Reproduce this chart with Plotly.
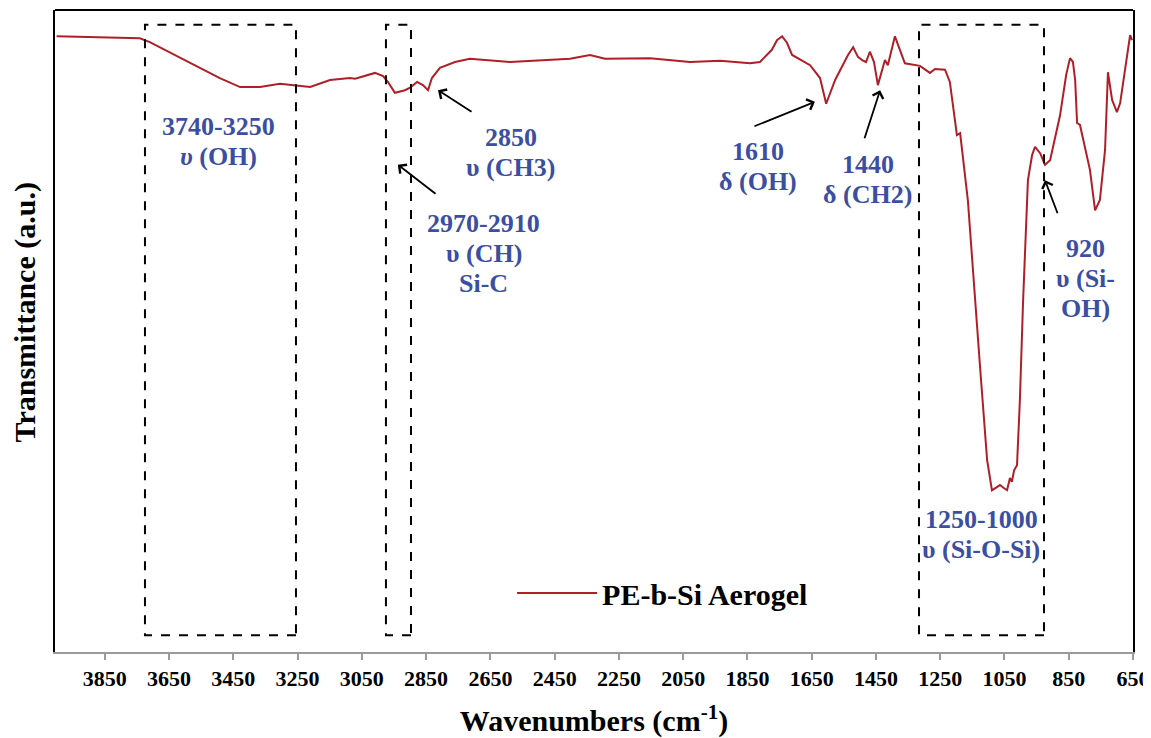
import plotly.graph_objects as go

# Spectrum (wavenumber cm-1, transmittance a.u.)
wavenumber = [4000, 3865, 3741, 3710, 3632, 3554, 3492, 3429, 3367, 3305, 3252, 3211, 3149,
              3087, 3071, 3009, 2984, 2969, 2947, 2916, 2900, 2878, 2860, 2844, 2832, 2807,
              2760, 2714, 2589, 2402, 2340, 2293, 2153, 2029, 1935, 1842, 1811, 1774, 1758,
              1742, 1727, 1711, 1655, 1624, 1605, 1577, 1537, 1521, 1506, 1493, 1481, 1469,
              1456, 1444, 1422, 1413, 1391, 1369, 1360, 1313, 1282, 1266, 1235, 1220, 1198,
              1188, 1179, 1164, 1126, 1104, 1089, 1064, 1051, 1042, 1033, 1027, 1020, 1011,
              1002, 992, 977, 964, 955, 939, 924, 908, 877, 858, 846, 837, 830, 824, 815,
              784, 768, 753, 737, 728, 715, 700, 690, 675, 659, 653]
transmittance = [95.9, 95.8, 95.6, 95.0, 93.0, 91.1, 89.4, 88.0, 88.0, 88.5, 88.2, 88.0, 89.1,
                 89.4, 89.3, 90.2, 89.7, 88.8, 87.1, 87.5, 87.9, 88.8, 88.3, 87.5, 89.4, 91.0,
                 91.9, 92.4, 91.9, 92.4, 93.0, 92.4, 92.5, 91.9, 92.1, 91.7, 91.9, 93.8, 95.3,
                 95.9, 94.9, 93.0, 91.4, 89.4, 85.4, 89.1, 93.0, 94.2, 92.7, 92.2, 91.9, 93.5,
                 91.9, 88.3, 92.2, 91.4, 95.9, 93.0, 91.7, 91.3, 90.2, 90.8, 90.7, 88.8, 80.5,
                 80.8, 76.6, 70.4, 44.4, 29.9, 25.2, 26.0, 25.5, 25.2, 27.1, 26.5, 28.3, 29.1,
                 39.3, 54.8, 73.5, 77.4, 78.7, 77.7, 75.9, 76.6, 83.6, 89.9, 92.5, 91.9, 89.1, 82.4, 82.1,
                 75.1, 68.8, 70.4, 78.2, 90.3, 86.0, 84.1, 85.5, 90.7, 96.1, 95.3]

tick_vals = [3850, 3650, 3450, 3250, 3050, 2850, 2650, 2450, 2250, 2050, 1850, 1650, 1450, 1250, 1050, 850, 650]

# Highlighted regions (wavenumber bounds)
box_lo = [3255, 2897, 927]
box_hi = [3725, 2975, 1316]

# Band labels: position of the first line, then the lines
label_x = [3495, 2586, 2670, 1817, 1475, 799, 1123]
label_y = [81.9, 80.2, 66.8, 78.0, 75.9, 62.9, 20.7]
label_lines = [["3740-3250", "<i>υ</i> (OH)"],
               ["2850", "υ (CH3)"],
               ["2970-2910", "υ (CH)", "Si-C"],
               ["1610", "δ (OH)"],
               ["1440", "δ (CH2)"],
               ["920", "υ (Si-", "OH)"],
               ["1250-1000", "υ (Si-O-Si)"]]

# Arrows: head (x, y), tail (x, y)
arrow_hx = [2938, 2813, 1640, 1437, 924]
arrow_hy = [75.9, 87.5, 85.7, 87.5, 73.5]
arrow_tx = [2816, 2704, 1833, 1487, 883]
arrow_ty = [71.2, 84.0, 81.8, 79.8, 68.1]

FONT = "Liberation Serif, Times New Roman, serif"
BLUE = "#3B4FA2"
LINE_GAP = 30

fig = go.Figure()
fig.add_trace(go.Scatter(x=wavenumber, y=transmittance, mode="lines",
                         line=dict(color="#AE1F28", width=2), name="<b>PE-b-Si Aerogel</b>"))

for lo, hi in zip(box_lo, box_hi):
    fig.add_shape(type="rect", xref="x", yref="y", x0=lo, x1=hi, y0=2.6, y1=97.7,
                  line=dict(color="black", width=2, dash="dash"))

for x, y, lines in zip(label_x, label_y, label_lines):
    for i, t in enumerate(lines):
        fig.add_annotation(x=x, y=y, xref="x", yref="y", text="<b>" + t + "</b>",
                           showarrow=False, yshift=-LINE_GAP * i,
                           font=dict(family=FONT, size=26, color=BLUE), align="center")

for hx, hy, tx, ty in zip(arrow_hx, arrow_hy, arrow_tx, arrow_ty):
    fig.add_annotation(x=hx, y=hy, ax=tx, ay=ty, xref="x", yref="y", axref="x", ayref="y",
                       text="", showarrow=True, arrowhead=4, arrowsize=1.2, arrowwidth=1.8,
                       arrowcolor="black")

# top border
fig.add_shape(type="line", xref="paper", yref="paper", x0=0, x1=1, y0=1, y1=1,
              line=dict(color="black", width=2))

fig.update_layout(
    width=1151, height=738,
    margin=dict(l=47, r=26, t=2, b=94),
    paper_bgcolor="white", plot_bgcolor="white",
    font=dict(family=FONT, color="black"),
    showlegend=True,
    legend=dict(x=0.424, y=0.092, xanchor="left", yanchor="middle",
                font=dict(family=FONT, size=30, color="black"),
                bgcolor="rgba(0,0,0,0)", itemwidth=80),
    xaxis=dict(range=[4005, 650], tickvals=tick_vals,
               ticktext=["<b>%d</b>" % v for v in tick_vals], automargin=False,
               showgrid=False, zeroline=False, showline=True, linecolor="#9a9a9a", linewidth=2,
               ticks="outside", ticklen=6, tickcolor="#9a9a9a", tickwidth=2,
               tickfont=dict(family=FONT, size=22, color="black"),
               title=dict(text="<b>Wavenumbers (cm<sup>-1</sup>)</b>", standoff=20,
                          font=dict(family=FONT, size=30, color="black"))),
    yaxis=dict(range=[0, 100], showticklabels=False, showgrid=False, zeroline=False,
               showline=True, linecolor="black", linewidth=2, mirror=True, ticks="",
               automargin=False,
               title=dict(text="&nbsp;&nbsp;&nbsp;&nbsp;&nbsp;<b>Transmittance (a.u.)</b>",
                          font=dict(family=FONT, size=30, color="black"))),
)

fig.write_html("out.html")
